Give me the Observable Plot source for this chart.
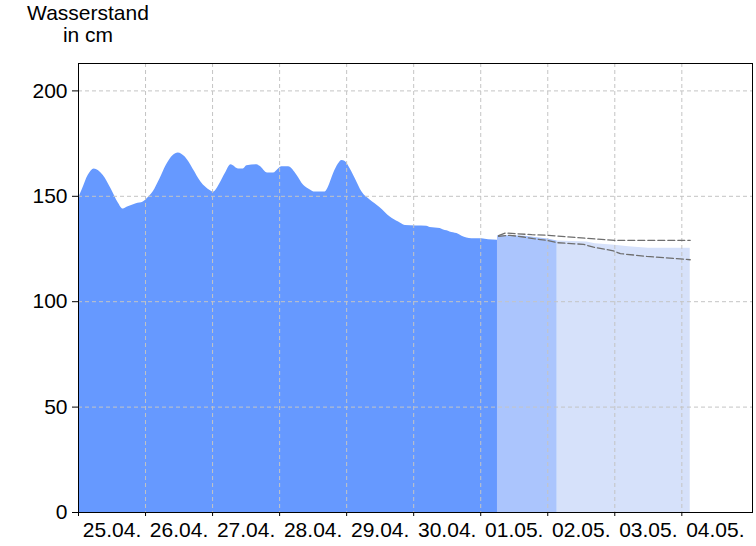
<!DOCTYPE html>
<html>
<head>
<meta charset="utf-8">
<script src="https://cdn.jsdelivr.net/npm/d3@7"></script>
<script src="https://cdn.jsdelivr.net/npm/@observablehq/plot@0.6"></script>
<style>
  html, body { margin: 0; padding: 0; background: #fff; }
  #wrap { position: relative; width: 756px; height: 546px; }
  #title { position: absolute; left: 0; top: 2px; width: 176px; text-align: center;
           font-family: "Liberation Sans", Arial, sans-serif; font-size: 21px; line-height: 22px; color: #000; }
</style>
</head>
<body>
<div id="wrap">
  <div id="title">Wasserstand<br>in cm</div>
</div>
<script>
// Hours since 25.04. 00:00 and water level (cm)
const measHours = [0, 1.3, 3.5, 5.6, 8.8, 11.7, 14.2, 16, 17.8, 20.7, 23.2, 24.2, 26.7, 29.2, 31.4, 33.9, 35.7, 38.2, 41, 43.9, 47.1,
  48.3, 50.7, 52.5, 54.6, 57.3, 59, 60.3, 63.9, 65, 67.7, 69.8, 71.6, 72.8, 75.2, 78.2, 80.6, 83, 84.7, 88.3, 89.5, 91.3, 93.1, 94.3, 95.5,
  97.3, 99.1, 101.5, 104.4, 108, 111.6, 114.6, 117, 124.7, 125.9, 129.5, 130.7, 131.9, 133, 135.5, 137.3, 140.8, 144.4, 146.8, 150];
const measVals = [149, 153, 160, 163, 160, 153.5, 147, 144, 145, 146.5, 147.3, 148.4, 152, 158.3, 164.6, 169.4, 170.6, 168.6, 163, 156.7, 152.8,
  152, 156.2, 160.7, 165, 163, 163, 164.5, 165, 164.2, 161, 161, 163, 164, 164, 160, 155.2, 153, 152, 152, 154.4, 160.7, 165.4, 167, 166.5,
  163, 158.3, 152, 148.2, 144.6, 140.2, 137.8, 136.2, 135.8, 135.2, 134.7, 134, 133.6, 133.1, 132.3, 131.1, 129.9, 129.9, 129.4, 129.2];

// Forecast (filled median), split into two confidence periods
const fcHours1 = [150, 155, 160, 163.5, 168, 171.4];
const fcVals1  = [131.3, 131.3, 131, 130.4, 129.8, 128.8];
const fcHours2 = [171.4, 182, 185, 192, 197, 204, 219];
const fcVals2  = [128.8, 128.3, 127.5, 126.8, 126.1, 125.3, 125.3];

// Forecast upper / lower bounds (dashed)
const upHours = [150.4, 152.8, 162.3, 168.3, 181.4, 192.1, 219];
const upVals  = [131.3, 132.6, 131.8, 131.5, 130.1, 129.1, 129.1];
const loHours = [150.4, 154.5, 159.3, 162.9, 167.7, 171.3, 180.8, 184.4, 191.5, 194, 203.5, 214.2, 219];
const loVals  = [131, 131.5, 130.7, 129.9, 129.1, 128, 127.2, 125.9, 124.1, 122.8, 121.5, 120.4, 119.9];

const dayLabels = ["25.04.", "26.04.", "27.04.", "28.04.", "29.04.", "30.04.", "01.05.", "02.05.", "03.05.", "04.05."];
const yTicks = [0, 50, 100, 150, 200];

const start = Date.UTC(2024, 3, 25);
const H = 3600e3;
const toRows = (hs, vs) => hs.map((h, i) => ({t: new Date(start + h * H), v: vs[i]}));
const measured = toRows(measHours, measVals);
const fc1 = toRows(fcHours1, fcVals1);
const fc2 = toRows(fcHours2, fcVals2);
const upper = toRows(upHours, upVals);
const lower = toRows(loHours, loVals);
const midnights = dayLabels.map((_, i) => new Date(start + i * 24 * H));
const noons = dayLabels.map((_, i) => new Date(start + (i + 0.5) * 24 * H));
const labelOf = d => dayLabels[Math.round((d - start) / (24 * H) - 0.5)];

const grid = {stroke: "#c4c4c4", strokeOpacity: 1, strokeDasharray: "4,3", strokeWidth: 1};

const chart = Plot.plot({
  width: 756,
  height: 546,
  marginLeft: 78,
  marginRight: 4,
  marginTop: 63,
  marginBottom: 34,
  style: {fontFamily: "'Liberation Sans', Arial, sans-serif", fontSize: "21px", background: "#fff", color: "#000"},
  x: {type: "utc", domain: [new Date(start), new Date(start + 241.3 * H)]},
  y: {domain: [0, 213]},
  marks: [
    Plot.areaY(measured, {x: "t", y: "v", fill: "#6699ff", curve: "monotone-x"}),
    Plot.areaY(fc1, {x: "t", y: "v", fill: "#abc5fd"}),
    Plot.areaY(fc2, {x: "t", y: "v", fill: "#d6e1fa"}),
    Plot.gridX(midnights, grid),
    Plot.gridY(yTicks.filter(d => d > 0), grid),
    Plot.line(upper, {x: "t", y: "v", stroke: "#6e6e6e", strokeWidth: 1.3, strokeDasharray: "7,3"}),
    Plot.line(lower, {x: "t", y: "v", stroke: "#6e6e6e", strokeWidth: 1.3, strokeDasharray: "7,3"}),
    Plot.axisY(yTicks, {tickSize: 6, tickPadding: 5, fontSize: 21, label: null, stroke: "#000"}),
    Plot.axisX(midnights, {tickSize: 4, tickFormat: () => "", label: null, stroke: "#000"}),
    Plot.axisX(noons, {tickSize: 0, tickPadding: 10, fontSize: 21, tickFormat: labelOf, label: null}),
    Plot.frame({stroke: "#000", strokeWidth: 1})
  ]
});
document.getElementById("wrap").prepend(chart);
</script>
</body>
</html>
